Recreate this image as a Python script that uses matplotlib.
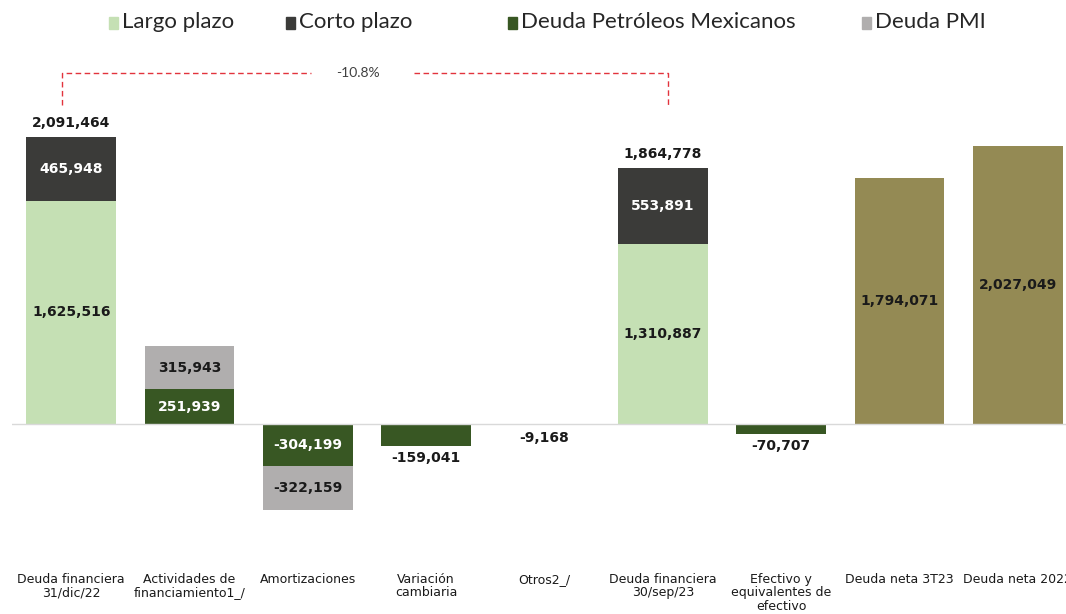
import numpy as np
import matplotlib
matplotlib.use("Agg")
import matplotlib.pyplot as plt
from matplotlib.patches import Rectangle

plt.rcParams['font.family'] = ['Lato', 'DejaVu Sans']

categories = ["Deuda financiera\n31/dic/22", "Actividades de\nfinanciamiento1_/",
              "Amortizaciones", "Variación\ncambiaria", "Otros2_/",
              "Deuda financiera\n30/sep/23", "Efectivo y\nequivalentes de\nefectivo",
              "Deuda neta 3T23", "Deuda neta 2022"]

# values in millones de pesos, 0 = no bar
largo = [1625516, 0, 0, 0, 0, 1310887, 0, 0, 0]
corto = [465948, 0, 0, 0, 0, 553891, 0, 0, 0]
pemex = [0, 251939, -304199, -159041, -9168, 0, -70707, 0, 0]
pmi = [0, 315943, -322159, 0, 0, 0, 0, 0, 0]
deuda_neta = [0, 0, 0, 0, 0, 0, 0, 1794071, 2027049]

legend_labels = ['Largo plazo', 'Corto plazo', 'Deuda Petróleos Mexicanos', 'Deuda PMI']

c_largo = '#c5e0b4'
c_corto = '#3b3b39'
c_pemex = '#385723'
c_pmi = '#b0aeae'
c_neta = '#948a54'
c_text = '#1a1a1a'

fig = plt.figure(figsize=(10.66, 6.14), dpi=100)
ax = fig.add_axes([0.0113, 0.1124, 0.999, 0.79])

x = np.arange(len(categories))
w = 0.76
largo = np.array(largo)
corto = np.array(corto)
pemex = np.array(pemex)
pmi = np.array(pmi)
deuda_neta = np.array(deuda_neta)


def label(xi, y, val, color):
    ax.text(xi, y, f"{val:,}", ha='center', va='center', color=color,
            fontsize=10, fontweight='bold', family=['DejaVu Sans'])


def outside(xi, y, val, up):
    ax.annotate(f"{val:,}", (xi, y), xytext=(0, 5 if up else -4),
                textcoords='offset points', ha='center',
                va='bottom' if up else 'top', fontsize=10, fontweight='bold',
                color=c_text, family=['DejaVu Sans'])


for i in x:
    if largo[i]:
        ax.bar(i, largo[i], w, color=c_largo)
        label(i, largo[i] / 2, largo[i], c_text)
    if corto[i]:
        ax.bar(i, corto[i], w, bottom=largo[i], color=c_corto)
        label(i, largo[i] + corto[i] / 2, corto[i], 'white')
        outside(i, largo[i] + corto[i], largo[i] + corto[i], True)
    if pemex[i]:
        ax.bar(i, pemex[i], w, color=c_pemex)
        if pmi[i]:
            label(i, pemex[i] / 2, pemex[i], 'white')
        else:
            outside(i, pemex[i], pemex[i], False)
    if pmi[i]:
        ax.bar(i, pmi[i], w, bottom=pemex[i], color=c_pmi)
        label(i, pemex[i] + pmi[i] / 2, pmi[i], c_text)
    if deuda_neta[i]:
        ax.bar(i, deuda_neta[i], w, color=c_neta)
        label(i, deuda_neta[i] / 2, deuda_neta[i], c_text)

# variation bracket between both debt totals
start = largo[0] + corto[0]
end = largo[5] + corto[5]
var = (end / start - 1) * 100
red = '#e2333d'
yb, yt = 2.325e6, 2.558e6
ls = dict(color=red, lw=1, dashes=(4, 2.5))
ax.plot([-0.08, -0.08, 2.03], [yb, yt, yt], **ls)
ax.plot([2.9, 5.04, 5.04], [yt, yt, yb], **ls)
ax.text(2.42, yt, f"{var:.1f}%", ha='center', va='center', fontsize=10, color='#404040')

ax.axhline(0, color='#d9d9d9', lw=1)
ax.set_xlim(-0.5, 8.5)
ax.set_ylim(-0.88e6, 2.65e6)
ax.set_xticks(x)
ax.set_xticklabels(categories, fontsize=9, color=c_text, family=['DejaVu Sans'],
                   linespacing=1.05)
ax.tick_params(axis='x', length=0, pad=20)
ax.set_yticks([])
for s in ax.spines.values():
    s.set_visible(False)

# legend laid out like the original (uneven gaps)
leg_colors = [c_largo, c_corto, c_pemex, c_pmi]
leg_x = [109, 286, 508, 862]
for lx, col, txt in zip(leg_x, leg_colors, legend_labels):
    fig.patches.append(Rectangle((lx / 1066, 1 - 29 / 614), 9 / 1066, 12 / 614,
                                 transform=fig.transFigure, color=col))
    fig.text((lx + 13) / 1066, 1 - 22 / 614, txt, ha='left', va='center',
             fontsize=16, color='#262626')

fig.savefig('out.png', dpi=100)
